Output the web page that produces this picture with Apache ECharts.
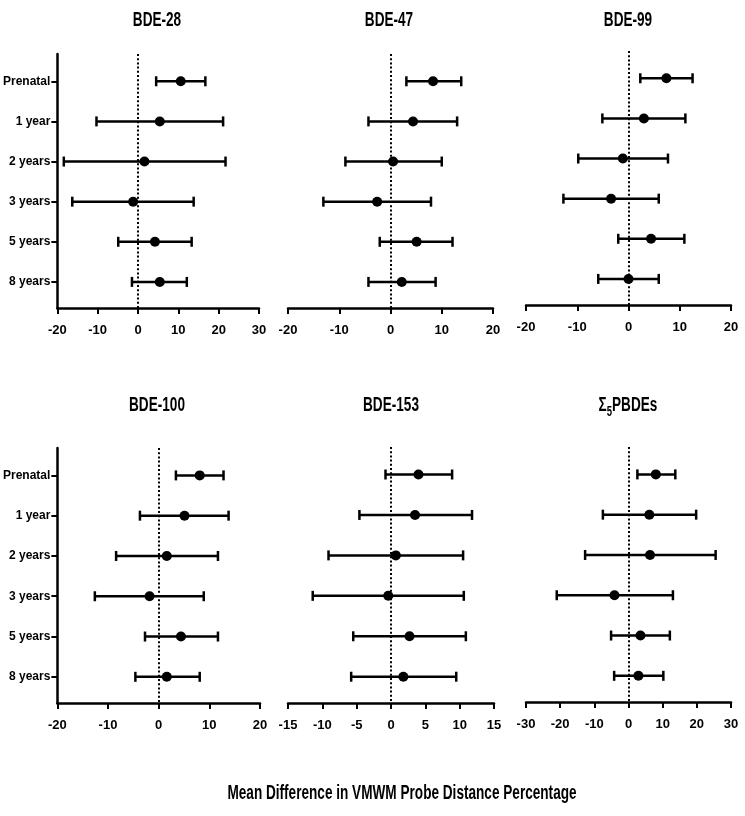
<!DOCTYPE html>
<html>
<head>
<meta charset="utf-8">
<script src="https://cdn.jsdelivr.net/npm/echarts@6/dist/echarts.min.js"></script>
<style>
  html, body { margin: 0; padding: 0; background: #fff; }
  #main { width: 745px; height: 816px; }
</style>
</head>
<body>
<div id="main"></div>
<script>
// time points (rows, top to bottom)
const timepoints = ['Prenatal', '1 year', '2 years', '3 years', '5 years', '8 years'];

// mean difference and 95% CI per congener
const bde28Mean  = [10.6, 5.4, 1.6, -1.2, 4.2, 5.4];
const bde28Lower = [4.5, -10.3, -18.4, -16.3, -4.9, -1.5];
const bde28Upper = [16.7, 21.1, 21.7, 13.8, 13.3, 12.1];

const bde47Mean  = [8.3, 4.4, 0.5, -2.6, 5.1, 2.2];
const bde47Lower = [3.1, -4.3, -8.8, -13.1, -2.1, -4.3];
const bde47Upper = [13.8, 13.0, 10.0, 7.9, 12.1, 8.8];

const bde99Mean  = [7.4, 3.0, -1.1, -3.4, 4.4, 0.0];
const bde99Lower = [2.3, -5.1, -9.8, -12.7, -2.0, -5.9];
const bde99Upper = [12.5, 11.1, 7.7, 5.9, 10.9, 5.9];

const bde100Mean  = [8.1, 5.1, 1.6, -1.8, 4.4, 1.6];
const bde100Lower = [3.4, -3.7, -8.4, -12.6, -2.7, -4.6];
const bde100Upper = [12.8, 13.8, 11.7, 8.9, 11.7, 8.1];

const bde153Mean  = [4.0, 3.5, 0.7, -0.4, 2.7, 1.8];
const bde153Lower = [-0.8, -4.6, -9.1, -11.4, -5.5, -5.8];
const bde153Upper = [8.9, 11.8, 10.5, 10.6, 10.9, 9.5];

const sumMean  = [8.0, 6.1, 6.3, -4.1, 3.5, 2.9];
const sumLower = [2.6, -7.5, -12.7, -21.0, -5.1, -4.2];
const sumUpper = [13.7, 19.8, 25.5, 13.0, 12.1, 10.2];

// x axis ticks per panel
const xMins = [-20, -20, -20, -20, -15, -30];
const xMaxs = [30, 20, 20, 20, 15, 30];
const xSteps = [10, 10, 10, 10, 5, 10];

const titles = ['BDE-28', 'BDE-47', 'BDE-99', 'BDE-100', 'BDE-153'];
const xTitle = 'Mean Difference in VMWM Probe Distance Percentage';

const means  = [bde28Mean, bde47Mean, bde99Mean, bde100Mean, bde153Mean, sumMean];
const lowers = [bde28Lower, bde47Lower, bde99Lower, bde100Lower, bde153Lower, sumLower];
const uppers = [bde28Upper, bde47Upper, bde99Upper, bde100Upper, bde153Upper, sumUpper];

const FONT = "'Liberation Sans', Arial, sans-serif";

// panel boxes [left, top, width, height]
const boxes = [
  [54, 54, 205, 254], [288, 54, 205, 254], [526, 51, 205, 254],
  [54, 448, 206, 255], [288, 447, 206, 256], [526, 447, 205, 255]
];

const chart = echarts.init(document.getElementById('main'));

function renderBar(params, api) {
  const lo = api.coord([api.value(0), api.value(2)]);
  const hi = api.coord([api.value(1), api.value(2)]);
  const st = {stroke: '#000', lineWidth: 2.5};
  const h = 5;
  return {
    type: 'group',
    children: [
      {type: 'line', shape: {x1: lo[0], y1: lo[1], x2: hi[0], y2: hi[1]}, style: st},
      {type: 'line', shape: {x1: lo[0], y1: lo[1] - h, x2: lo[0], y2: lo[1] + h}, style: st},
      {type: 'line', shape: {x1: hi[0], y1: hi[1] - h, x2: hi[0], y2: hi[1] + h}, style: st}
    ]
  };
}

const grids = [], xAxes = [], yAxes = [], series = [];
boxes.forEach((b, i) => {
  const showY = (i === 0 || i === 3);
  grids.push({left: b[0], top: b[1], width: b[2], height: b[3]});
  xAxes.push({
    type: 'value', gridIndex: i,
    min: xMins[i], max: xMaxs[i], interval: xSteps[i],
    splitLine: {show: false},
    axisLine: {onZero: false, lineStyle: {color: '#000', width: 2.5}},
    axisTick: {length: 6, lineStyle: {color: '#000', width: 2}},
    axisLabel: {color: '#000', fontFamily: FONT, fontWeight: 'bold', fontSize: 13, margin: 16}
  });
  yAxes.push({
    type: 'value', gridIndex: i, inverse: true,
    min: -0.68, max: 5.65,
    splitLine: {show: false},
    axisLine: {show: showY, onZero: false, lineStyle: {color: '#000', width: 2.5}},
    axisTick: {show: showY, length: 6, customValues: [0, 1, 2, 3, 4, 5], lineStyle: {color: '#000', width: 2}},
    axisLabel: {
      show: showY, customValues: [0, 1, 2, 3, 4, 5],
      formatter: v => timepoints[Math.round(v)],
      color: '#000', fontFamily: FONT, fontWeight: 'bold', fontSize: 12, margin: 7
    }
  });
  series.push({
    type: 'custom', xAxisIndex: i, yAxisIndex: i,
    renderItem: renderBar,
    data: timepoints.map((t, k) => [lowers[i][k], uppers[i][k], k]),
    z: 3
  });
  series.push({
    type: 'scatter', xAxisIndex: i, yAxisIndex: i,
    symbolSize: 10,
    itemStyle: {color: '#000', opacity: 1},
    data: timepoints.map((t, k) => [means[i][k], k]),
    z: 4,
    markLine: {
      silent: true, symbol: 'none', label: {show: false},
      lineStyle: {color: '#000', type: [2, 2.2], width: 2},
      data: [{xAxis: 0}]
    }
  });
});

const titleStyle = {fill: '#000', fontFamily: FONT, fontWeight: 'bold', fontSize: 20, textAlign: 'center', textVerticalAlign: 'middle'};
const titlePos = [[157, 20], [389, 20], [628, 20], [157, 405], [391, 405]];
const graphics = titles.map((t, i) => ({
  type: 'text', x: titlePos[i][0], y: titlePos[i][1], scaleX: 0.68,
  style: Object.assign({text: t}, titleStyle)
}));
// Σ5PBDEs title with subscript
graphics.push({
  type: 'text', x: 628, y: 407, scaleX: 0.68,
  style: {
    text: '{a|Σ}{s|5}{a|PBDEs}', textAlign: 'center', textVerticalAlign: 'middle',
    rich: {
      a: {fill: '#000', fontFamily: FONT, fontWeight: 'bold', fontSize: 20, lineHeight: 24, verticalAlign: 'top'},
      s: {fill: '#000', fontFamily: FONT, fontWeight: 'bold', fontSize: 14, lineHeight: 14, verticalAlign: 'bottom'}
    }
  }
});
graphics.push({
  type: 'text', x: 402, y: 793, scaleX: 0.68,
  style: Object.assign({text: xTitle}, titleStyle, {fontSize: 20})
});

chart.setOption({
  animation: false,
  grid: grids,
  xAxis: xAxes,
  yAxis: yAxes,
  series: series,
  graphic: graphics
});
</script>
</body>
</html>
